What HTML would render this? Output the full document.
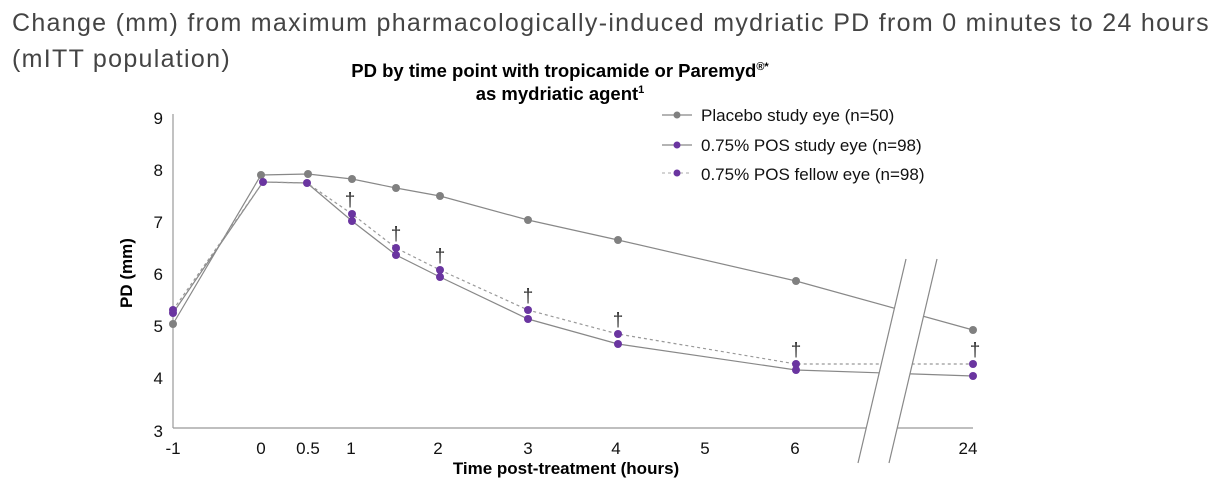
<!DOCTYPE html>
<html><head><style>
body{margin:0;background:#fff;width:1224px;height:488px;overflow:hidden;font-family:"Liberation Sans",sans-serif}
.t{position:absolute;left:12px;top:5px;font-size:25px;color:#444;line-height:36px;letter-spacing:1.3px}
</style></head><body>
<div class="t">Change (mm) from maximum pharmacologically-induced mydriatic PD from 0 minutes to 24 hours<br>(mITT population)</div>
<svg width="1224" height="488" style="position:absolute;left:0;top:0" font-family="Liberation Sans, sans-serif">
<text x="560" y="77" font-size="18.5" font-weight="bold" text-anchor="middle">PD by time point with tropicamide or Paremyd<tspan font-size="11" dy="-7">®*</tspan></text>
<text x="560" y="100" font-size="18.5" font-weight="bold" text-anchor="middle">as mydriatic agent<tspan font-size="11" dy="-7">1</tspan></text>
<g stroke="#999" stroke-width="1.2" fill="none">
<line x1="173" y1="114" x2="173" y2="428"/><line x1="173" y1="428" x2="973" y2="428"/>
</g>
<g font-size="17" text-anchor="end" fill="#111">
<text x="163" y="124">9</text><text x="163" y="176">8</text><text x="163" y="228">7</text><text x="163" y="280">6</text><text x="163" y="332">5</text><text x="163" y="384">4</text><text x="163" y="437">3</text>
</g>
<g font-size="17" text-anchor="middle" fill="#111">
<text x="173" y="454">-1</text><text x="261" y="454">0</text><text x="308" y="454">0.5</text><text x="351" y="454">1</text><text x="438" y="454">2</text><text x="528" y="454">3</text><text x="616" y="454">4</text><text x="705" y="454">5</text><text x="795" y="454">6</text><text x="968" y="454">24</text>
</g>
<text x="566" y="474" font-size="17" font-weight="bold" text-anchor="middle">Time post-treatment (hours)</text>
<text transform="translate(132,273) rotate(-90)" font-size="17" font-weight="bold" text-anchor="middle">PD (mm)</text>
<polyline fill="none" stroke="#888" stroke-width="1.2" points="173,324 261,175 308,174 352,179 396,188 440,196 528,220 618,240 796,281 973,330"/>
<polyline fill="none" stroke="#888" stroke-width="1.2" points="173,313 263,182 307,183 352,221 396,255 440,277 528,319 618,344 796,370 973,376"/>
<polyline fill="none" stroke="#999" stroke-width="1.2" stroke-dasharray="3,3" points="173,310 263,182 307,183 352,214 396,248 440,270 528,310 618,334 796,364 973,364"/>
<g fill="#808080"><circle cx="173" cy="324" r="4"/><circle cx="261" cy="175" r="4"/><circle cx="308" cy="174" r="4"/><circle cx="352" cy="179" r="4"/><circle cx="396" cy="188" r="4"/><circle cx="440" cy="196" r="4"/><circle cx="528" cy="220" r="4"/><circle cx="618" cy="240" r="4"/><circle cx="796" cy="281" r="4"/><circle cx="973" cy="330" r="4"/></g>
<g fill="#6a35a0"><circle cx="173" cy="313" r="4"/><circle cx="263" cy="182" r="4"/><circle cx="307" cy="183" r="4"/><circle cx="352" cy="221" r="4"/><circle cx="396" cy="255" r="4"/><circle cx="440" cy="277" r="4"/><circle cx="528" cy="319" r="4"/><circle cx="618" cy="344" r="4"/><circle cx="796" cy="370" r="4"/><circle cx="973" cy="376" r="4"/>
<circle cx="173" cy="310" r="4"/><circle cx="352" cy="214" r="4"/><circle cx="396" cy="248" r="4"/><circle cx="440" cy="270" r="4"/><circle cx="528" cy="310" r="4"/><circle cx="618" cy="334" r="4"/><circle cx="796" cy="364" r="4"/><circle cx="973" cy="364" r="4"/></g>
<g font-size="19" text-anchor="middle" fill="#333">
<text x="350" y="206">†</text><text x="396" y="240">†</text><text x="440" y="262">†</text><text x="528" y="302">†</text><text x="618" y="326">†</text><text x="796" y="356">†</text><text x="975" y="356">†</text>
</g>
<polygon points="906,259 937,259 889,463 858,463" fill="#fff"/>
<g stroke="#888" stroke-width="1.2"><line x1="906" y1="259" x2="858" y2="463"/><line x1="937" y1="259" x2="889" y2="463"/></g>
<g stroke-width="1.2">
<line x1="662" y1="115" x2="692" y2="115" stroke="#888"/><circle cx="677" cy="115" r="3.5" fill="#808080"/>
<line x1="662" y1="145" x2="692" y2="145" stroke="#888"/><circle cx="677" cy="145" r="3.5" fill="#6a35a0"/>
<line x1="662" y1="173" x2="692" y2="173" stroke="#bbb" stroke-dasharray="3,3"/><circle cx="677" cy="173" r="3.5" fill="#6a35a0"/>
</g>
<g font-size="17" fill="#111">
<text x="701" y="121">Placebo study eye (n=50)</text>
<text x="701" y="151">0.75% POS study eye (n=98)</text>
<text x="701" y="180">0.75% POS fellow eye (n=98)</text>
</g>
</svg>
</body></html>
